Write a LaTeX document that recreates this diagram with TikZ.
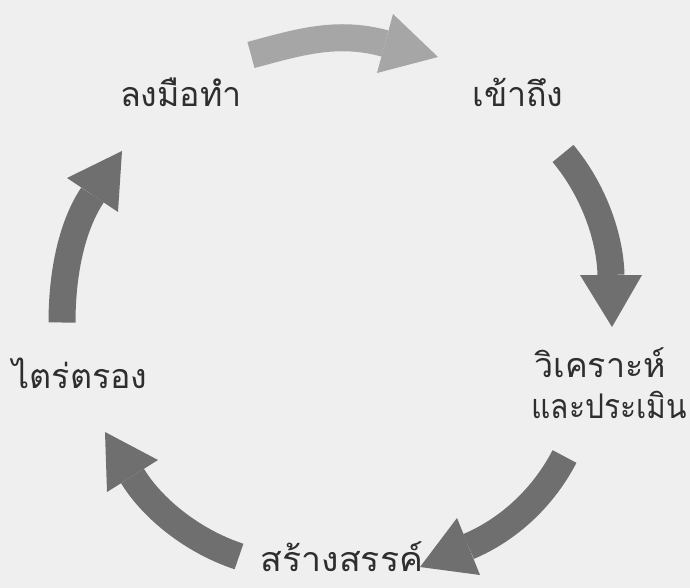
\documentclass[tikz,border=0pt]{standalone}
\usepackage{fontspec}
\newfontfamily\thaifont[Script=Thai]{Loma}
\definecolor{bg}{HTML}{EFEFEF}
\definecolor{arrowdark}{HTML}{6F6F6F}
\definecolor{arrowlight}{HTML}{A6A6A6}
\definecolor{txt}{HTML}{2E2E2E}
\begin{document}
\begin{tikzpicture}[x=1pt,y=-1pt,
  lbl/.style={font=\thaifont\fontsize{34}{40}\selectfont, text=txt, inner sep=0pt, anchor=base},
  body/.style={line width=27pt, line cap=butt},
]
\fill[bg] (0,0) rectangle (690,588);
\useasboundingbox (0,0) rectangle (690,588);

% labels
\node[lbl] (act) at (181,107) {ลงมือทำ};
\node[lbl] (acc) at (518,107) {เข้าถึง};
\node[lbl] (anaA) at (600,377) {วิเคราะห์};
\node[lbl, anchor=base east] (anaB) at (687,418) {\scalebox{0.88}[1]{และประเมิน}};
\node[lbl] (cre) at (342,571) {\scalebox{1.05}[1]{สร้างสรรค์}};
\node[lbl] (refl) at (80,388) {ไตร่ตรอง};

% arrow 1 (top, light)
\coordinate (a1t) at (251,55);
\coordinate (a1b) at (385,43.5);
\draw[body, arrowlight] (a1t) .. controls (299,42) and (337,30.4) .. (a1b);
\fill[arrowlight] (393,14) -- (438,57) -- (377,73) -- cycle;

% arrow 2 (right)
\coordinate (a2t) at (563,153.5);
\coordinate (a2b) at (611,275);
\draw[body, arrowdark] (a2t) .. controls (592,188) and (610,235) .. (a2b);
\fill[arrowdark] (580,275) -- (612,327) -- (642,275) -- cycle;

% arrow 3 (bottom right)
\coordinate (a3t) at (564.5,456.5);
\coordinate (a3b) at (468.5,546.5);
\draw[body, arrowdark] (a3t) .. controls (544,496) and (510,529) .. (a3b);
\fill[arrowdark] (457,518) -- (420,567) -- (480,575) -- cycle;

% arrow 4 (bottom left)
\coordinate (a4t) at (239,556.5);
\coordinate (a4b) at (132.5,476);
\draw[body, arrowdark] (a4t) .. controls (192,541) and (152,508) .. (a4b);
\fill[arrowdark] (158,460) -- (105,432) -- (107,492) -- cycle;

% arrow 5 (left)
\coordinate (a5t) at (62,322.5);
\coordinate (a5b) at (92.5,195);
\draw[body, arrowdark] (a5t) .. controls (62,277.5) and (70.3,228.2) .. (a5b);
\fill[arrowdark] (67,178) -- (122,151) -- (118,212) -- cycle;
\end{tikzpicture}
\end{document}
